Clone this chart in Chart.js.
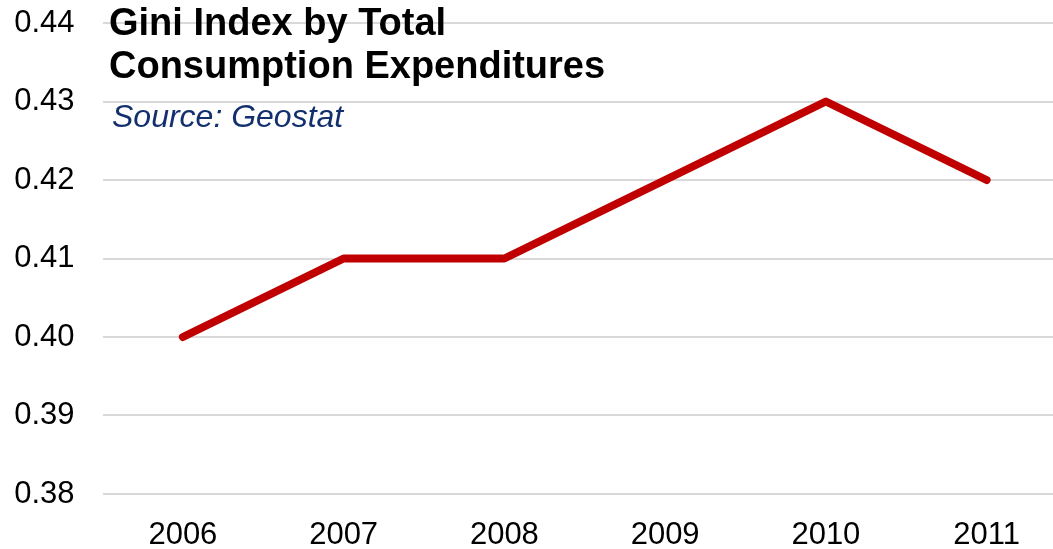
<!DOCTYPE html>
<html>
<head>
<meta charset="utf-8">
<script src="https://cdn.jsdelivr.net/npm/chart.js@4"></script>
<style>
    html, body { margin: 0; padding: 0; background: #fff; overflow: hidden; }
    #wrap { width: 1067px; height: 549px; }
</style>
</head>
<body>
<div id="wrap"><canvas id="chart" width="1067" height="549"></canvas></div>
<script>
const years = ["2006", "2007", "2008", "2009", "2010", "2011"];
const giniValues = [0.40, 0.41, 0.41, 0.42, 0.43, 0.42];
const titleLines = ["Gini Index by Total", "Consumption Expenditures"];
const sourceText = "Source: Geostat";

const fontFamily = "'Liberation Sans', Arial, Helvetica, sans-serif";

// heading block sits inside the plot area, over the top gridline
const headingPlugin = {
    id: "heading",
    afterDraw(chart) {
        const ctx = chart.ctx;
        ctx.save();
        ctx.textAlign = "left";
        ctx.textBaseline = "alphabetic";
        ctx.fillStyle = "#000";
        ctx.font = `bold 38px ${fontFamily}`;
        ctx.fillText(titleLines[0], 109, 35);
        ctx.fillText(titleLines[1], 109, 78);
        ctx.fillStyle = "#13306e";
        ctx.font = `italic 32px ${fontFamily}`;
        ctx.fillText(sourceText, 112, 127);
        ctx.restore();
    }
};

const context = document.getElementById("chart");
const chart = new Chart(context, {
    type: "line",
    data: {
        labels: years,
        datasets: [{
            label: "Gini Index",
            data: giniValues,
            borderColor: "#c00000",
            borderWidth: 8,
            borderCapStyle: "round",
            borderJoinStyle: "round",
            pointRadius: 0,
            fill: false,
            tension: 0
        }]
    },
    options: {
        responsive: false,
        animation: false,
        layout: { padding: { top: 23, right: 0, bottom: 0, left: 0 } },
        plugins: {
            legend: { display: false },
            tooltip: { enabled: false }
        },
        scales: {
            x: {
                offset: true,
                grid: { display: false },
                border: { display: false },
                ticks: {
                    color: "#000",
                    padding: 15,
                    font: { family: fontFamily, size: 31 }
                },
                afterFit(scale) {
                    scale.height = 55;
                    scale.paddingLeft = 0;
                    scale.paddingRight = 0;
                }
            },
            y: {
                min: 0.38,
                max: 0.44,
                grid: { color: "#d9d9d9", lineWidth: 2, drawTicks: false },
                border: { display: false },
                ticks: {
                    stepSize: 0.01,
                    color: "#000",
                    padding: 28,
                    font: { family: fontFamily, size: 31 },
                    callback: value => value.toFixed(2)
                },
                afterFit(scale) {
                    scale.width = 102.5;
                    scale.paddingTop = 0;
                    scale.paddingBottom = 0;
                }
            }
        }
    },
    plugins: [headingPlugin]
});
</script>
</body>
</html>
